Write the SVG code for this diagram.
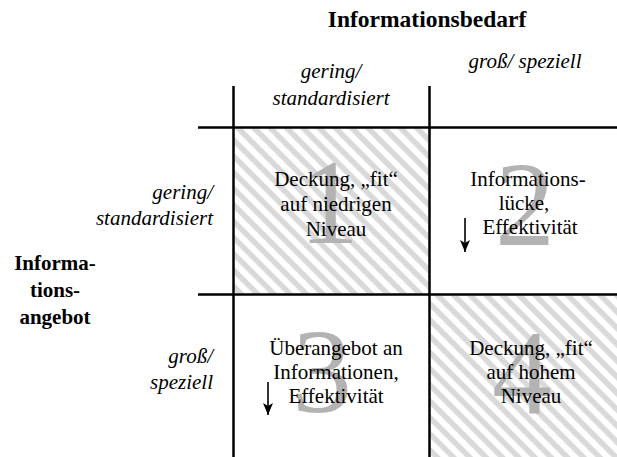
<svg xmlns="http://www.w3.org/2000/svg" width="617" height="457" viewBox="0 0 617 457">
  <defs>
    <!-- light grey diagonal hatching for the matching cells -->
    <pattern id="hatch" width="11.5" height="11.5" patternUnits="userSpaceOnUse" patternTransform="rotate(45)">
      <rect width="11.5" height="11.5" fill="#ffffff"/>
      <rect width="11.5" height="5.5" fill="#d9d9d9"/>
    </pattern>
    <marker id="arrowhead" viewBox="0 0 12 10" refX="12" refY="5" markerWidth="12" markerHeight="10" markerUnits="userSpaceOnUse" orient="auto">
      <path d="M0,0 L12,5 L0,10 L3,5 Z" fill="#000"/>
    </marker>
  </defs>
  <style>
    text { font-family: "Liberation Serif", "Times New Roman", serif; fill: #000; }
    .title { font-size: 23.5px; font-weight: bold; text-anchor: middle; }
    .axis { font-size: 21px; font-weight: bold; text-anchor: middle; }
    .lbl { font-size: 21px; font-style: italic; }
    .mid { text-anchor: middle; }
    .end { text-anchor: end; }
    .cell { font-size: 21px; text-anchor: middle; }
    .num { font-size: 120px; text-anchor: middle; fill: #b3b3b3; }
    .grid { stroke: #000; stroke-width: 2.5; fill: none; }
    .arrow { stroke: #000; stroke-width: 1.6; fill: none; }
  </style>

  <rect width="617" height="457" fill="#ffffff"/>

  <!-- axis titles -->
  <g id="title-bedarf">
    <text class="title" x="427" y="27">Informationsbedarf</text>
  </g>
  <g id="title-angebot">
    <text class="axis" x="55" y="270">Informa-</text>
    <text class="axis" x="55" y="297">tions-</text>
    <text class="axis" x="55" y="324">angebot</text>
  </g>

  <!-- column headers -->
  <g id="col-gering">
    <text class="lbl mid" x="331" y="78">gering/</text>
    <text class="lbl mid" x="331" y="105">standardisiert</text>
  </g>
  <g id="col-gross">
    <text class="lbl mid" x="525" y="68">groß/ speziell</text>
  </g>

  <!-- row headers -->
  <g id="row-gering">
    <text class="lbl end" x="213" y="199">gering/</text>
    <text class="lbl end" x="213" y="225">standardisiert</text>
  </g>
  <g id="row-gross">
    <text class="lbl end" x="213" y="363">groß/</text>
    <text class="lbl end" x="213" y="389">speziell</text>
  </g>

  <!-- quadrant 1 -->
  <g id="cell-1">
    <rect x="234.5" y="128.5" width="194" height="165" fill="url(#hatch)"/>
    <text class="num" x="329" y="243">1</text>
    <text class="cell" x="336" y="186">Deckung, „fit“</text>
    <text class="cell" x="336" y="211">auf niedrigen</text>
    <text class="cell" x="336" y="236">Niveau</text>
  </g>

  <!-- quadrant 2 -->
  <g id="cell-2">
    <text class="num" x="525" y="245">2</text>
    <text class="cell" x="528" y="186">Informations-</text>
    <text class="cell" x="524" y="210">lücke,</text>
    <text class="cell" x="530" y="234">Effektivität</text>
    <line class="arrow" x1="465" y1="218" x2="465" y2="252" marker-end="url(#arrowhead)"/>
  </g>

  <!-- quadrant 3 -->
  <g id="cell-3">
    <text class="num" x="322" y="412">3</text>
    <text class="cell" x="336" y="355">Überangebot an</text>
    <text class="cell" x="336" y="379">Informationen,</text>
    <text class="cell" x="336" y="403">Effektivität</text>
    <line class="arrow" x1="268" y1="382" x2="268" y2="415" marker-end="url(#arrowhead)"/>
  </g>

  <!-- quadrant 4 -->
  <g id="cell-4">
    <rect x="430.5" y="295.5" width="186.5" height="161.5" fill="url(#hatch)"/>
    <text class="num" x="522" y="413">4</text>
    <text class="cell" x="531" y="355">Deckung, „fit“</text>
    <text class="cell" x="531" y="379">auf hohem</text>
    <text class="cell" x="531" y="403">Niveau</text>
  </g>

  <!-- grid lines -->
  <g id="connectors">
    <line class="grid" x1="233.5" y1="86" x2="233.5" y2="457"/>
    <line class="grid" x1="429.5" y1="86" x2="429.5" y2="457"/>
    <line class="grid" x1="198" y1="127.5" x2="617" y2="127.5"/>
    <line class="grid" x1="198" y1="294.5" x2="617" y2="294.5"/>
  </g>
</svg>
